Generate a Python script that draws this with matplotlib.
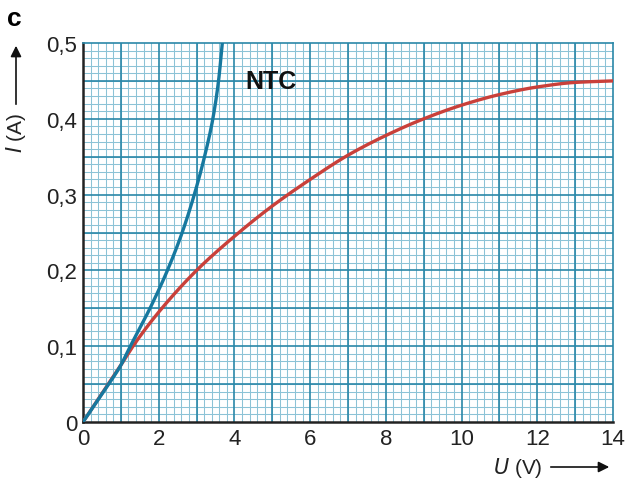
#!/usr/bin/env python3
"""
I-U characteristic of an NTC resistor on graph paper.
"""
import numpy as np
import matplotlib.pyplot as plt
from matplotlib.ticker import MultipleLocator, FuncFormatter

plt.rcParams['font.family'] = ['Liberation Sans', 'DejaVu Sans']

# blue curve (NTC, steep rise)
ntc_u = [0, 0.68, 1.0, 1.25, 1.77, 2.23, 2.62, 2.94, 3.21, 3.43, 3.58, 3.68]
ntc_i = [0, 0.05, 0.075, 0.1, 0.15, 0.2, 0.25, 0.3, 0.35, 0.4, 0.45, 0.5]

# red curve (saturating)
red_u = [0, 1.0, 1.32, 2.0, 3.0, 4.0, 5.0, 6.0, 7.0, 8.0, 9.0, 10.0, 11.0, 12.0, 13.0, 14.0]
red_i = [0, 0.075, 0.1, 0.145, 0.2, 0.245, 0.285, 0.32, 0.352, 0.378, 0.4, 0.418, 0.432, 0.442, 0.448, 0.45]

x_ticks = [0, 2, 4, 6, 8, 10, 12, 14]
y_ticks = [0, 0.1, 0.2, 0.3, 0.4, 0.5]

MAJOR = "#2a87a8"
MINOR = "#8cc3d6"
BLUE = "#16789f"
RED = "#c9403a"
TXT = "#222222"


def smooth(xs, ys, n=300, by_y=False):
    # monotone piecewise cubic through the read-off points
    xs = np.asarray(xs, float)
    ys = np.asarray(ys, float)
    if by_y:
        xs, ys = ys, xs
    h = np.diff(xs)
    d = np.diff(ys) / h
    m = np.zeros_like(xs)
    m[0], m[-1] = d[0], d[-1]
    for k in range(1, len(xs) - 1):
        if d[k - 1] * d[k] > 0:
            w1 = 2 * h[k] + h[k - 1]
            w2 = h[k] + 2 * h[k - 1]
            m[k] = (w1 + w2) / (w1 / d[k - 1] + w2 / d[k])
    t = np.linspace(xs[0], xs[-1], n)
    idx = np.clip(np.searchsorted(xs, t) - 1, 0, len(xs) - 2)
    hh = h[idx]
    s = (t - xs[idx]) / hh
    h00 = 2 * s**3 - 3 * s**2 + 1
    h10 = s**3 - 2 * s**2 + s
    h01 = -2 * s**3 + 3 * s**2
    h11 = s**3 - s**2
    v = h00 * ys[idx] + h10 * hh * m[idx] + h01 * ys[idx + 1] + h11 * hh * m[idx + 1]
    if by_y:
        return v, t
    return t, v


fig = plt.figure(figsize=(6.26, 4.81), dpi=100)
ax = fig.add_axes([83 / 626, 1 - 423 / 481, 530 / 626, 379 / 481])
ax.set_xlim(0, 14)
ax.set_ylim(0, 0.5)

# graph paper
ax.xaxis.set_minor_locator(MultipleLocator(0.2))
ax.yaxis.set_minor_locator(MultipleLocator(0.01))
ax.grid(which="minor", color=MINOR, lw=0.75)
for u in np.arange(1, 14, 1):
    ax.axvline(u, color=MAJOR, lw=1.2, zorder=1)
for i in np.arange(0.05, 0.5, 0.05):
    ax.axhline(i, color=MAJOR, lw=1.2, zorder=1)
ax.set_axisbelow(True)

ax.set_xticks(x_ticks)
ax.set_yticks(y_ticks)
ax.yaxis.set_major_formatter(FuncFormatter(lambda v, p: "0" if v == 0 else f"{v:.1f}".replace(".", ",")))
ax.tick_params(which="both", length=0, labelsize=16, colors=TXT, pad=4)

for side in ("top", "right"):
    ax.spines[side].set_color(MAJOR)
    ax.spines[side].set_linewidth(1.2)
for side in ("left", "bottom"):
    ax.spines[side].set_color("#222222")
    ax.spines[side].set_linewidth(1.8)

bx, by = smooth(ntc_u, ntc_i, by_y=True)
ax.plot(bx, by, color=BLUE, lw=2.4, zorder=4)
rx, ry = smooth(red_u, red_i)
ax.plot(rx, ry, color=RED, lw=2.4, zorder=3)

ax.text(4.28, 0.45, "NTC", fontsize=18, fontweight="bold", color="#111111", va="center", ha="left")

# panel letter and axis labels with arrows
fig.text(7 / 626, 1 - 19 / 481, "c", fontsize=19, fontweight="bold", va="center", ha="left")
fig.text(16 / 626, 1 - 133 / 481, "$\\mathit{I}$ (A)", rotation=90, fontsize=15, color=TXT,
         va="center", ha="center")
ax.annotate("", xy=(16 / 626, 1 - 44 / 481), xytext=(16 / 626, 1 - 108 / 481),
            xycoords="figure fraction", textcoords="figure fraction",
            arrowprops=dict(arrowstyle="-|>", color="#111111", lw=1.2, mutation_scale=16))
fig.text(518 / 626, 1 - 468 / 481, "$\\mathit{U}$ (V)", fontsize=15, color=TXT,
         va="center", ha="center")
ax.annotate("", xy=(612 / 626, 1 - 468 / 481), xytext=(548 / 626, 1 - 468 / 481),
            xycoords="figure fraction", textcoords="figure fraction",
            arrowprops=dict(arrowstyle="-|>", color="#111111", lw=1.2, mutation_scale=16))

fig.savefig("out.png", dpi=100)
